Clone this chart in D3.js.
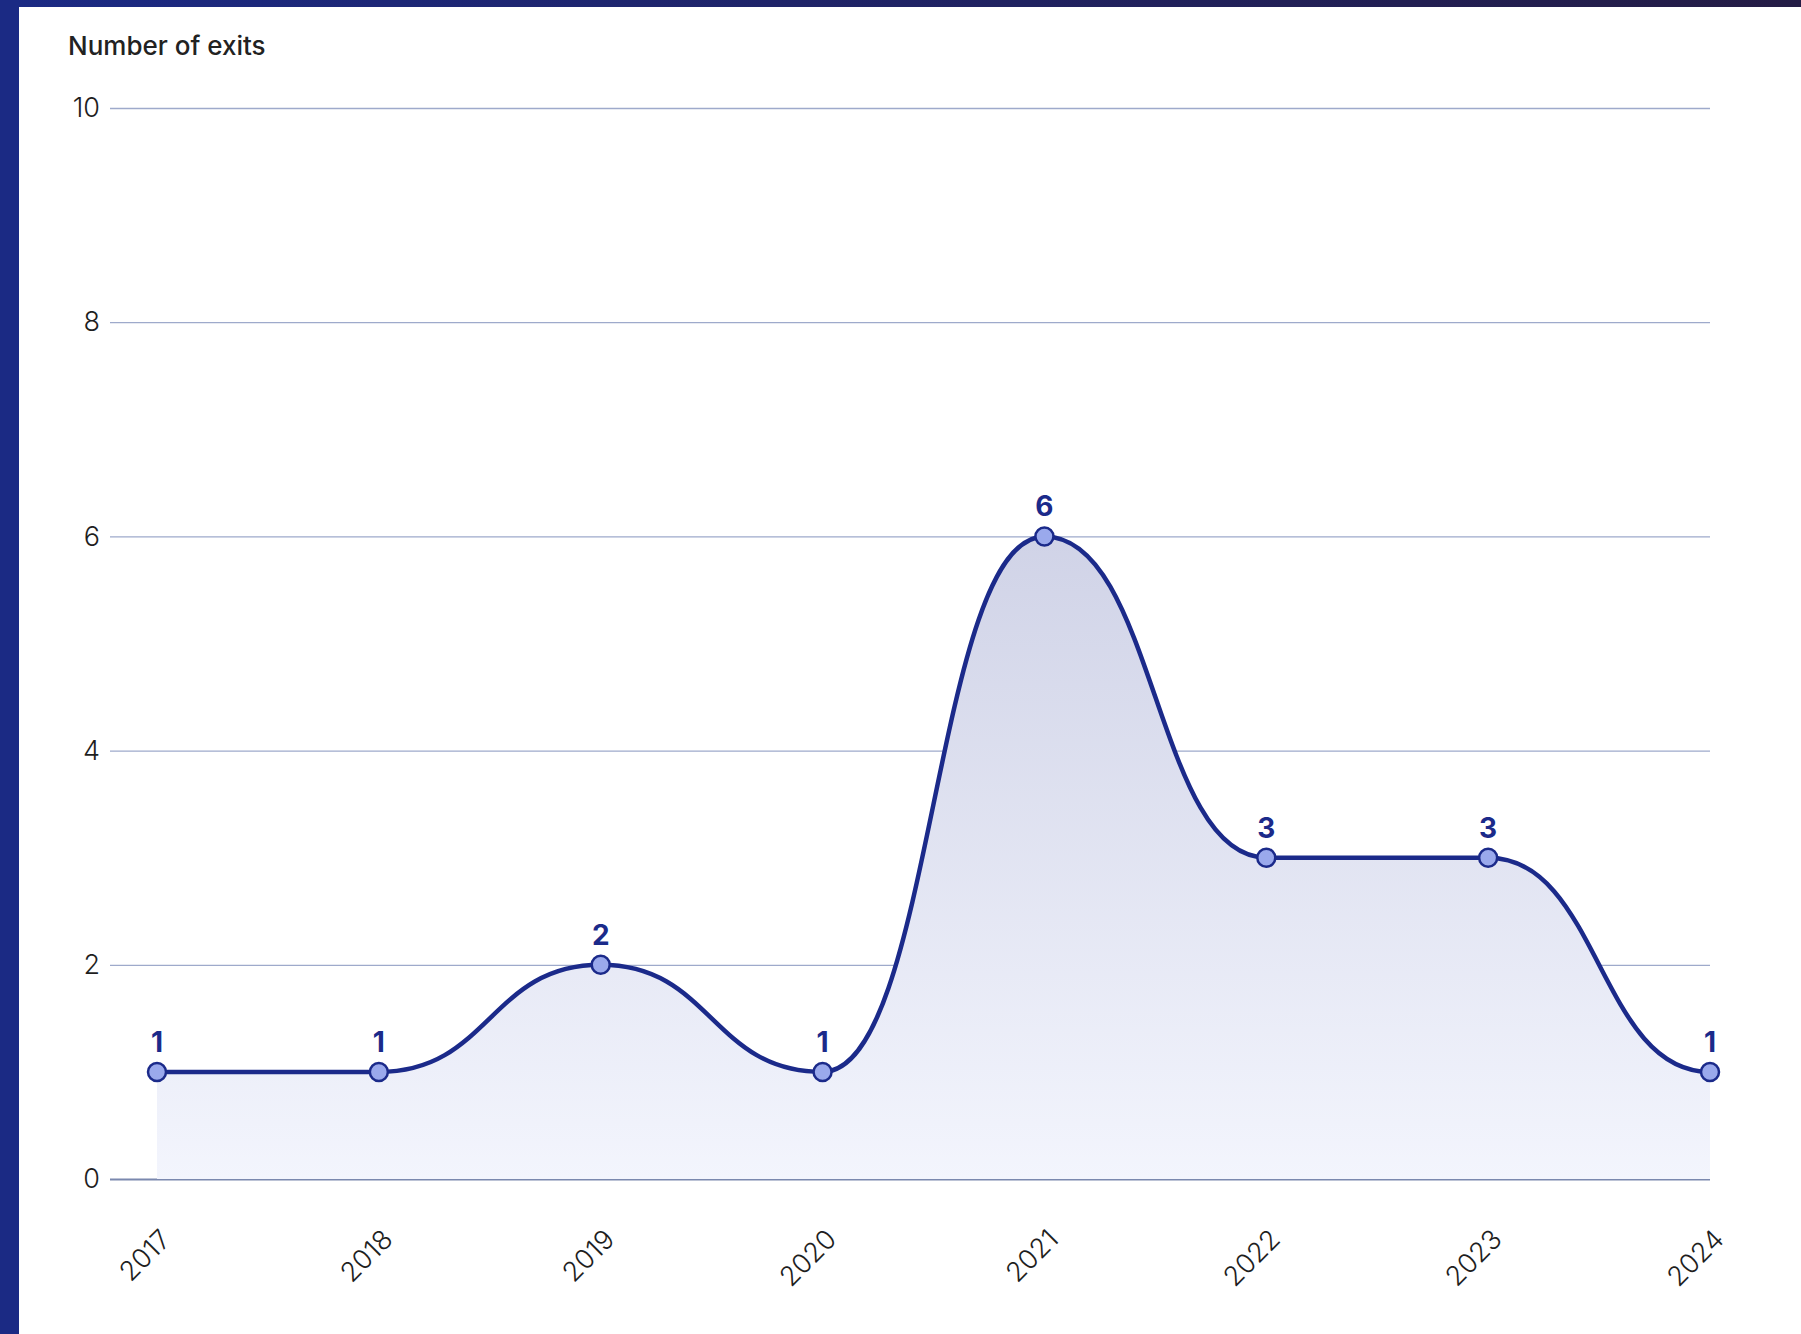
<!DOCTYPE html>
<html>
<head>
<meta charset="utf-8">
<script src="https://cdn.jsdelivr.net/npm/d3@7"></script>
<style>
  html, body { margin: 0; padding: 0; background: #ffffff; }
  svg { display: block; }
  text { font-family: Inter, "Noto Sans", sans-serif; }
</style>
</head>
<body>
<svg id="chart" width="1801" height="1334"></svg>
<script>
// Exits per year
const years = ["2017", "2018", "2019", "2020", "2021", "2022", "2023", "2024"];
const exits = [1, 1, 2, 1, 6, 3, 3, 1];
const yTicks = [0, 2, 4, 6, 8, 10];
const yTitle = "Number of exits";

const W = 1801, H = 1334;
const svg = d3.select("#chart");

const data = years.map((yr, i) => ({ year: yr, value: exits[i] }));

const gridLeft = 110, plotLeft = 157, plotRight = 1710;
const x = d3.scalePoint().domain(years).range([plotLeft, plotRight]);
const y = d3.scaleLinear().domain([0, 10]).range([1179, 108]);

const defs = svg.append("defs");

// frame gradient for the top band
const band = defs.append("linearGradient").attr("id", "band")
  .attr("x1", "0").attr("x2", "1").attr("y1", "0").attr("y2", "0");
band.append("stop").attr("offset", "0").attr("stop-color", "#1b2a84");
band.append("stop").attr("offset", "1").attr("stop-color", "#241c45");

// soft fill under the curve
const fill = defs.append("linearGradient").attr("id", "areaFill")
  .attr("gradientUnits", "userSpaceOnUse")
  .attr("x1", 0).attr("x2", 0).attr("y1", y(6)).attr("y2", y(0));
fill.append("stop").attr("offset", "0").attr("stop-color", "#d0d3e7");
fill.append("stop").attr("offset", "1").attr("stop-color", "#f3f5fd");

// frame
svg.append("rect").attr("x", 0).attr("y", 0).attr("width", W).attr("height", 7).attr("fill", "url(#band)");
svg.append("rect").attr("x", 0).attr("y", 0).attr("width", 19).attr("height", H).attr("fill", "#1b2a84");

// title
svg.append("text")
  .attr("x", 68).attr("y", 55)
  .attr("font-size", 26).attr("font-weight", 500).attr("fill", "#222")
  .text(yTitle);

// y axis with gridlines
const yAxis = svg.append("g")
  .attr("transform", `translate(${gridLeft},0)`)
  .call(d3.axisLeft(y).tickValues(yTicks).tickFormat(d3.format("d"))
    .tickSize(-(plotRight - gridLeft)).tickPadding(10));
yAxis.select(".domain").remove();
yAxis.selectAll(".tick line")
  .attr("stroke", d => d === 0 ? "#7a88ae" : "#9eaacb")
  .attr("stroke-width", d => d === 0 ? 2 : 1.3);
yAxis.selectAll(".tick text")
  .attr("font-size", 27).attr("font-weight", 300).attr("fill", "#1e1e1e")
  .style("font-family", "Inter, 'Noto Sans', sans-serif");

// area and line
const area = d3.area()
  .x(d => x(d.year)).y0(y(0)).y1(d => y(d.value))
  .curve(d3.curveBumpX);
const line = d3.line()
  .x(d => x(d.year)).y(d => y(d.value))
  .curve(d3.curveBumpX);

svg.append("path").datum(data).attr("d", area).attr("fill", "url(#areaFill)");
svg.append("path").datum(data).attr("d", line)
  .attr("fill", "none").attr("stroke", "#1b2a8a").attr("stroke-width", 4.5)
  .attr("stroke-linejoin", "round");

// x axis labels
const xAxis = svg.append("g")
  .attr("transform", `translate(0,${y(0)})`)
  .call(d3.axisBottom(x).tickSize(0).tickPadding(0));
xAxis.select(".domain").remove();
xAxis.selectAll(".tick text")
  .attr("x", 0).attr("y", 0).attr("dy", 0)
  .attr("transform", "translate(15,62) rotate(-45)")
  .attr("text-anchor", "end")
  .attr("font-size", 27).attr("font-weight", 300).attr("fill", "#1e1e1e")
  .style("font-family", "Inter, 'Noto Sans', sans-serif");

// markers
svg.append("g").selectAll("circle").data(data).join("circle")
  .attr("cx", d => x(d.year)).attr("cy", d => y(d.value))
  .attr("r", 9)
  .attr("fill", "#9aa9ec").attr("stroke", "#1b2a8a").attr("stroke-width", 2.5);

// value labels
svg.append("g").selectAll("text").data(data).join("text")
  .attr("x", d => x(d.year)).attr("y", d => y(d.value) - 20)
  .attr("text-anchor", "middle")
  .attr("font-size", 28).attr("font-weight", 700).attr("fill", "#1b2a8a")
  .text(d => d.value);
</script>
</body>
</html>
